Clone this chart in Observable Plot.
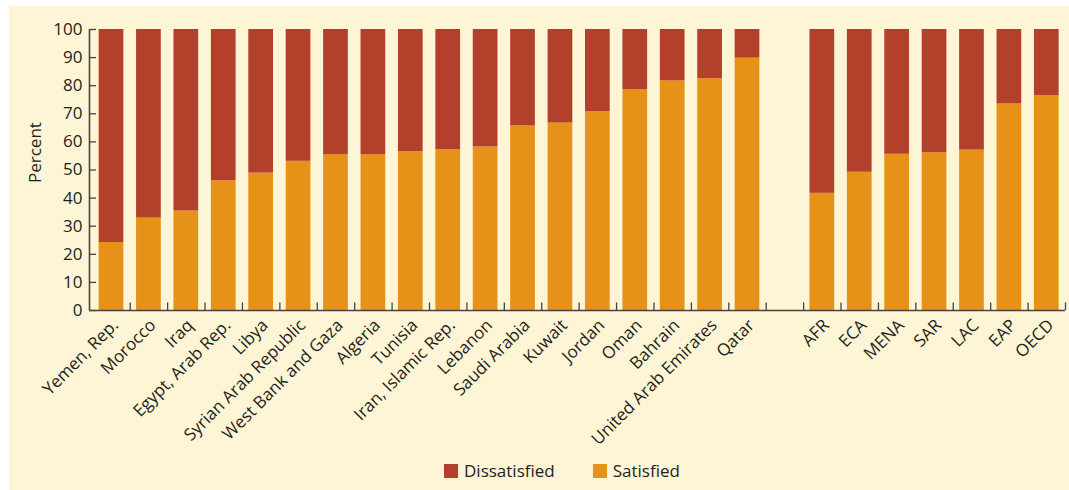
<!DOCTYPE html>
<html>
<head>
<meta charset="utf-8">
<script src="https://cdn.jsdelivr.net/npm/d3@7"></script>
<script src="https://cdn.jsdelivr.net/npm/@observablehq/plot@0.6"></script>
<style>
html, body { margin: 0; padding: 0; background: #ffffff; }
#panel { position: absolute; left: 9px; top: 6px; width: 1060px; height: 484px; background: #FDF5D5; font-family: "Open Sans", sans-serif; overflow: hidden; }
#chart { position: absolute; left: 0; top: 0; }
#legend { position: absolute; left: 435px; top: 452px; height: 25px; }
#legend > div { display: flex !important; align-items: center; min-height: 25px !important; margin: 0 !important; font-family: "Open Sans", sans-serif !important; font-size: 17px !important; color: #231f20; }
#legend span { margin-right: 38px !important; }
#legend span:last-child { margin-right: 0 !important; }
#legend svg { margin-right: 6px !important; }
</style>
</head>
<body>
<div id="panel"><div id="chart"></div><div id="legend"></div></div>
<script>
const countries = ["Yemen, Rep.", "Morocco", "Iraq", "Egypt, Arab Rep.", "Libya", "Syrian Arab Republic",
  "West Bank and Gaza", "Algeria", "Tunisia", "Iran, Islamic Rep.", "Lebanon", "Saudi Arabia",
  "Kuwait", "Jordan", "Oman", "Bahrain", "United Arab Emirates", "Qatar"];
const countrySatisfied = [24.2, 32.9, 35.4, 46.2, 48.9, 53.1, 55.4, 55.4, 56.5, 57.3, 58.2, 65.7,
  66.7, 70.8, 78.6, 81.7, 82.5, 89.8];
const regions = ["AFR", "ECA", "MENA", "SAR", "LAC", "EAP", "OECD"];
const regionSatisfied = [41.7, 49.2, 55.6, 56.1, 57.1, 73.5, 76.4];
const statuses = ["Dissatisfied", "Satisfied"];
const statusColors = ["#B3402B", "#E69218"];
const yTicks = [0, 10, 20, 30, 40, 50, 60, 70, 80, 90, 100];
const yLabel = "Percent";

// build table from the arrays (blank slot separates countries from regions)
const categories = [...countries, "", ...regions];
const satisfied = [...countrySatisfied, null, ...regionSatisfied];
const rows = [];
categories.forEach((c, i) => {
  if (satisfied[i] == null) return;
  rows.push({pos: i, name: c, status: "Satisfied", y1: 0, y2: satisfied[i]});
  rows.push({pos: i, name: c, status: "Dissatisfied", y1: satisfied[i], y2: 100});
});
const labels = categories.map((c, i) => ({pos: i, label: c}));
const boundaries = d3.range(1, categories.length + 1);

const W = 1060, ML = 80, MR = 4;
const axisColor = "#4a423c";
const textColor = "#231f20";

const chart = Plot.plot({
  width: W, height: 448,
  marginLeft: ML, marginRight: MR, marginTop: 23, marginBottom: 144,
  style: {fontFamily: '"Open Sans", sans-serif', fontSize: "17px", color: textColor, background: "transparent", overflow: "visible"},
  x: {domain: [0, categories.length], insetLeft: 3.3, axis: null},
  y: {domain: [0, 100]},
  color: {domain: statuses, range: statusColors},
  marks: [
    Plot.rectY(rows, {x1: "pos", x2: d => d.pos + 1, y1: "y1", y2: "y2", fill: "status", insetLeft: 6.35, insetRight: 6.35}),
    Plot.ruleY([0], {stroke: axisColor, strokeWidth: 1.6}),
    Plot.ruleX([0], {y1: 0, y2: 100, dx: -3.3, stroke: axisColor, strokeWidth: 1.6}),
    Plot.ruleX(boundaries, {x: d => d, y1: 0, y2: 2.7, stroke: axisColor, strokeWidth: 1.3}),
    Plot.tickY(yTicks, {y: d => d, insetRight: W - ML - MR - 7, stroke: axisColor, strokeWidth: 1.3}),
    Plot.axisY(yTicks, {tickSize: 0, tickPadding: 7, label: null, fill: textColor}),
    Plot.text(labels, {x: d => d.pos + 0.5, y: 0, text: "label", rotate: -45, textAnchor: "end", dx: 4, dy: 12, fill: textColor}),
    Plot.text([yLabel], {frameAnchor: "left", rotate: -90, dx: -54, dy: 13, text: d => d, fill: textColor})
  ]
});
document.getElementById("chart").append(chart);

const legend = Plot.legend({color: {domain: statuses, range: statusColors}, legend: "swatches", swatchSize: 14});
document.getElementById("legend").append(legend);
</script>
</body>
</html>
